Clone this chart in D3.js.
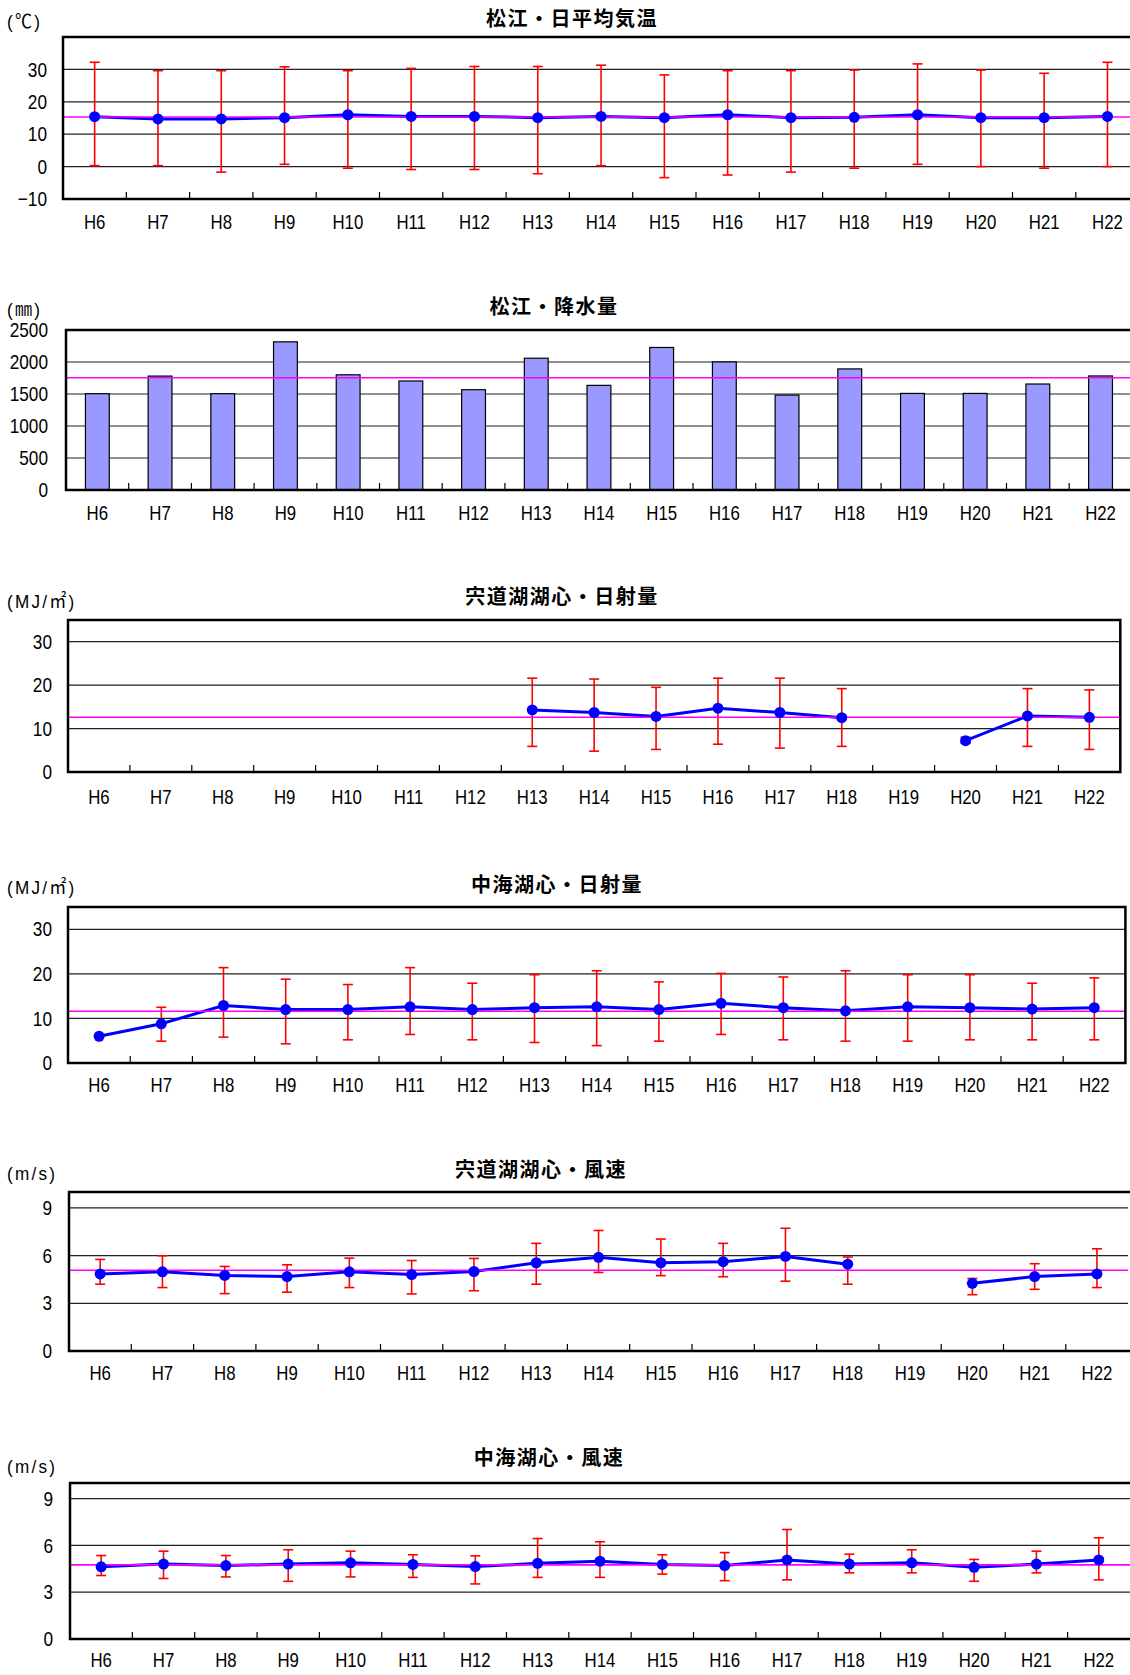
<!DOCTYPE html>
<html lang="ja">
<head>
<meta charset="UTF-8">
<title>松江・宍道湖・中海 気象</title>
<script src="https://d3js.org/d3.v7.min.js"></script>
<style>
  body { margin: 0; background: #fff; }
  .num { font-family: "Liberation Sans", Arial, sans-serif; font-size: 21px; fill: #000; }
  .title { font-family: "Noto Sans CJK JP", sans-serif; font-size: 20px; font-weight: 700; fill: #000; letter-spacing: 1.5px; }
  .unit { font-family: "Liberation Sans", "Noto Sans CJK JP", sans-serif; font-size: 19px; fill: #000; letter-spacing: 2.5px; }
</style>
</head>
<body>
<svg width="1130" height="1675"></svg>
<script>
// categories
const years = ["H6","H7","H8","H9","H10","H11","H12","H13","H14","H15","H16","H17","H18","H19","H20","H21","H22"];

// 松江・日平均気温 (mean, max, min)
const tempMean = [15.4,14.7,14.7,15.1,16.0,15.5,15.5,15.1,15.5,15.1,16.0,15.1,15.2,16.0,15.1,15.1,15.5];
const tempMax  = [32.2,29.6,29.6,30.8,29.6,30.3,30.9,30.9,31.3,28.3,29.6,29.6,29.8,31.7,29.8,28.8,32.2];
const tempMin  = [0.3,0.3,-1.7,0.7,-0.5,-0.9,-0.9,-2.2,0.3,-3.4,-2.6,-1.7,-0.5,0.7,0.0,-0.5,0.0];
const tempAvg = 15.3;

// 松江・降水量
const rain = [1505,1780,1505,2315,1800,1703,1567,2059,1635,2227,2002,1483,1892,1509,1509,1656,1782];
const rainAvg = 1755;

// 宍道湖湖心・日射量
const shinjiSun    = [null,null,null,null,null,null,null,14.3,13.7,12.8,14.7,13.7,12.5,null,7.2,12.9,12.6];
const shinjiSunMax = [null,null,null,null,null,null,null,21.6,21.4,19.5,21.6,21.6,19.2,null,8.0,19.2,18.9];
const shinjiSunMin = [null,null,null,null,null,null,null,5.9,4.8,5.2,6.4,5.5,5.9,null,6.6,5.9,5.2];
const shinjiSunAvg = 12.6;

// 中海湖心・日射量
const nakaumiSun    = [6.0,8.8,12.9,12.0,12.0,12.6,12.0,12.4,12.6,12.0,13.4,12.4,11.7,12.6,12.4,12.1,12.4];
const nakaumiSunMax = [null,12.5,21.4,18.8,17.6,21.4,17.9,19.8,20.7,18.2,20.1,19.3,20.7,19.8,19.8,17.9,19.1];
const nakaumiSunMin = [null,4.9,5.8,4.3,5.2,6.4,5.2,4.6,3.9,4.9,6.4,5.2,4.9,4.9,5.2,5.2,5.2];
const nakaumiSunAvg = 11.6;

// 宍道湖湖心・風速
const shinjiWind    = [4.85,4.98,4.75,4.68,4.98,4.81,5.0,5.55,5.89,5.55,5.62,5.95,5.46,null,4.26,4.68,4.85];
const shinjiWindMax = [5.76,5.99,5.32,5.42,5.84,5.69,5.82,6.77,7.58,7.04,6.77,7.72,5.91,null,4.56,5.49,6.43];
const shinjiWindMin = [4.2,3.99,3.61,3.7,3.99,3.59,3.79,4.2,4.94,4.74,4.67,4.39,4.2,null,3.54,3.88,3.99];
const shinjiWindAvg = 5.08;

// 中海湖心・風速
const nakaumiWind    = [4.63,4.8,4.71,4.8,4.88,4.78,4.64,4.85,4.99,4.78,4.71,5.07,4.8,4.88,4.6,4.8,5.07];
const nakaumiWindMax = [5.35,5.63,5.35,5.72,5.63,5.4,5.33,6.44,6.23,5.4,5.54,7.02,5.44,5.72,5.1,5.63,6.49];
const nakaumiWindMin = [4.07,3.88,3.98,3.7,3.98,3.95,3.53,3.95,3.95,4.16,3.74,3.79,4.24,4.24,3.7,4.24,3.79];
const nakaumiWindAvg = 4.75;

// panel layouts
const panels = [
  { title: "松江・日平均気温", tx: 572, ty: 17, unit: "(℃)", uy: 22, left: 63, top: 37, bottom: 199, step: 63.3,
    domain: [-10, 40], ticks: [-10, 0, 10, 20, 30], labY: 222, labR: 47,
    mean: tempMean, hi: tempMax, lo: tempMin, avg: tempAvg },
  { title: "松江・降水量", tx: 554, ty: 305, unit: "(㎜)", uy: 310, left: 66, top: 330, bottom: 490, step: 62.7,
    domain: [0, 2500], ticks: [0, 500, 1000, 1500, 2000, 2500], labY: 513, labR: 48,
    bars: rain, avg: rainAvg },
  { title: "宍道湖湖心・日射量", tx: 562, ty: 595, unit: "(MJ/㎡)", uy: 602, left: 68, top: 620, bottom: 772, step: 61.9, box: true,
    domain: [0, 35], ticks: [0, 10, 20, 30], labY: 797, labR: 52,
    mean: shinjiSun, hi: shinjiSunMax, lo: shinjiSunMin, avg: shinjiSunAvg },
  { title: "中海湖心・日射量", tx: 557, ty: 883, unit: "(MJ/㎡)", uy: 888, left: 68, top: 907, bottom: 1063, step: 62.2, box: true,
    domain: [0, 35], ticks: [0, 10, 20, 30], labY: 1085, labR: 52,
    mean: nakaumiSun, hi: nakaumiSunMax, lo: nakaumiSunMin, avg: nakaumiSunAvg },
  { title: "宍道湖湖心・風速", tx: 541, ty: 1168, unit: "(m/s)", uy: 1174, left: 69, top: 1192, bottom: 1351, step: 62.3,
    domain: [0, 10], ticks: [0, 3, 6, 9], labY: 1373, labR: 52,
    mean: shinjiWind, hi: shinjiWindMax, lo: shinjiWindMin, avg: shinjiWindAvg },
  { title: "中海湖心・風速", tx: 549, ty: 1456, unit: "(m/s)", uy: 1467, left: 70, top: 1483, bottom: 1639, step: 62.35,
    domain: [0, 10], ticks: [0, 3, 6, 9], labY: 1660, labR: 53,
    mean: nakaumiWind, hi: nakaumiWindMax, lo: nakaumiWindMin, avg: nakaumiWindAvg }
];

const svg = d3.select('svg');

// narrow text, like the original's half-width gothic
function narrow(sel, fx, fy, sx) {
  sel.attr('x', 0).attr('y', 0)
    .attr('transform', (d, i) => `translate(${fx(d, i)},${fy(d, i)}) scale(${sx},1)`);
}

panels.forEach(p => {
  const right = p.left + p.step * years.length;
  const x = d3.scaleBand().domain(years).range([p.left, right]).padding(0);
  const y = d3.scaleLinear().domain(p.domain).range([p.bottom, p.top]);
  const g = svg.append('g');

  // title and unit
  g.append('text').attr('class', 'title').attr('x', p.tx).attr('y', p.ty)
    .attr('text-anchor', 'middle').attr('dominant-baseline', 'central').text(p.title);
  g.append('text').attr('class', 'unit')
    .attr('dominant-baseline', 'central').text(p.unit)
    .call(narrow, () => 7, () => p.uy, 0.9);

  // grid lines
  g.selectAll('.grid').data(p.ticks.filter(t => t > p.domain[0] && t < p.domain[1]))
    .enter().append('line')
    .attr('x1', p.left).attr('x2', right)
    .attr('y1', d => y(d)).attr('y2', d => y(d))
    .attr('stroke', '#222').attr('stroke-width', 1.2);

  // y labels
  g.selectAll('.ylab').data(p.ticks).enter().append('text')
    .attr('class', 'num')
    .attr('text-anchor', 'end').attr('dominant-baseline', 'central')
    .text(d => d < 0 ? '\u2212' + Math.abs(d) : d)
    .call(narrow, () => p.labR, d => y(d), 0.82);

  // x labels
  g.selectAll('.xlab').data(years).enter().append('text')
    .attr('class', 'num')
    .attr('text-anchor', 'middle').attr('dominant-baseline', 'central').text(d => d)
    .call(narrow, d => x(d) + x.bandwidth() / 2, () => p.labY, 0.8);

  // x ticks (inside, between categories)
  g.selectAll('.xtick').data(years.slice(1)).enter().append('line')
    .attr('x1', d => x(d)).attr('x2', d => x(d))
    .attr('y1', p.bottom).attr('y2', p.bottom - 7)
    .attr('stroke', '#000').attr('stroke-width', 1.2);

  // bars
  if (p.bars) {
    const bw = x.bandwidth() * 0.38;
    g.selectAll('.bar').data(p.bars).enter().append('rect')
      .attr('x', (d, i) => x(years[i]) + (x.bandwidth() - bw) / 2)
      .attr('y', d => y(d)).attr('width', bw).attr('height', d => p.bottom - y(d))
      .attr('fill', '#9999ff').attr('stroke', '#000').attr('stroke-width', 1.2);
  }

  // error bars + line
  if (p.mean) {
    const idx = d3.range(years.length).filter(i => p.hi[i] != null);
    const cx = i => x(years[i]) + x.bandwidth() / 2;
    const eb = g.append('g').attr('stroke', '#ff0000').attr('stroke-width', 1.6);
    idx.forEach(i => {
      eb.append('line').attr('x1', cx(i)).attr('x2', cx(i)).attr('y1', y(p.hi[i])).attr('y2', y(p.lo[i]));
      eb.append('line').attr('x1', cx(i) - 5).attr('x2', cx(i) + 5).attr('y1', y(p.hi[i])).attr('y2', y(p.hi[i]));
      eb.append('line').attr('x1', cx(i) - 5).attr('x2', cx(i) + 5).attr('y1', y(p.lo[i])).attr('y2', y(p.lo[i]));
    });

    const line = d3.line().defined(d => d != null)
      .x((d, i) => cx(i)).y(d => y(d));
    g.append('path').datum(p.mean).attr('d', line)
      .attr('fill', 'none').attr('stroke', '#0000ff').attr('stroke-width', 3);
  }

  // average line
  g.append('line').attr('x1', p.left).attr('x2', right)
    .attr('y1', y(p.avg)).attr('y2', y(p.avg))
    .attr('stroke', '#ff00ff').attr('stroke-width', 1.6);

  // markers
  if (p.mean) {
    g.selectAll('.pt').data(p.mean.map((v, i) => [v, i]).filter(d => d[0] != null))
      .enter().append('circle')
      .attr('cx', d => x(years[d[1]]) + x.bandwidth() / 2).attr('cy', d => y(d[0]))
      .attr('r', 5.5).attr('fill', '#0000ff');
  }

  // frame
  const fr = g.append('path').attr('fill', 'none').attr('stroke', '#000').attr('stroke-width', 2.5);
  if (p.box) {
    fr.attr('d', `M${p.left},${p.top}H${right}V${p.bottom}H${p.left}Z`);
  } else {
    fr.attr('d', `M${right + 20},${p.top}H${p.left}V${p.bottom}H${right + 20}`);
  }
});
</script>
</body>
</html>
